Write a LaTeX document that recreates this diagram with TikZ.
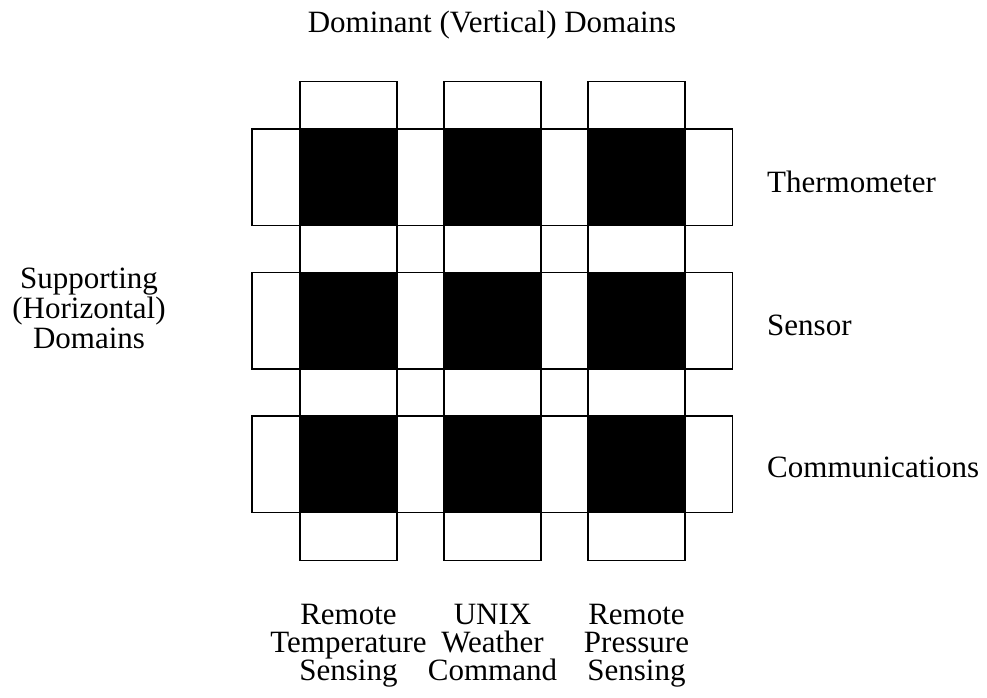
\documentclass[tikz,border=0pt]{standalone}
\usepackage{fontspec}
\setmainfont{Liberation Serif}
\usepackage{tikz}
\usetikzlibrary{positioning,calc}

\tikzset{
  bar/.style={draw, line width=1.4pt},
  hit/.style={fill=black},
  lbl/.style={font=\fontsize{31}{28}\selectfont, align=center, inner sep=0pt}
}

\begin{document}
\begin{tikzpicture}[x=1pt,y=-1pt]
  \useasboundingbox (0,0) rectangle (987,698);
  % dominant (vertical) domains
  \foreach \i in {0,1,2}
    \draw[bar] (300+144*\i,81.5) rectangle (397+144*\i,560.5);
  % supporting (horizontal) domains
  \foreach \j in {0,1,2}
    \draw[bar] (252,129+143.5*\j) rectangle (732.5,225.5+143.5*\j);
  % crossings
  \foreach \i in {0,1,2}
    \foreach \j in {0,1,2}
      \fill[hit] (300+144*\i,129+143.5*\j) rectangle (397+144*\i,225.5+143.5*\j);

  % labels
  \node[lbl, anchor=base] (dominant) at (492,33) {Dominant (Vertical) Domains};
  \node[lbl, anchor=base, font=\fontsize{31}{30}\selectfont] (supporting) at (89,348)
    {Supporting\\(Horizontal)\\Domains};
  \node[lbl, anchor=base west] (thermo) at (767,192) {Thermometer};
  \node[lbl, anchor=base west] (sensor) at (767,335.5) {Sensor};
  \node[lbl, anchor=base west] (comms) at (767,477) {Communications};
  \node[lbl, anchor=base] (rts) at (348.5,680) {Remote\\Temperature\\Sensing};
  \node[lbl, anchor=base] (uwc) at (492.5,680) {UNIX\\Weather\\Command};
  \node[lbl, anchor=base] (rps) at (636.5,680) {Remote\\Pressure\\Sensing};
\end{tikzpicture}
\end{document}
